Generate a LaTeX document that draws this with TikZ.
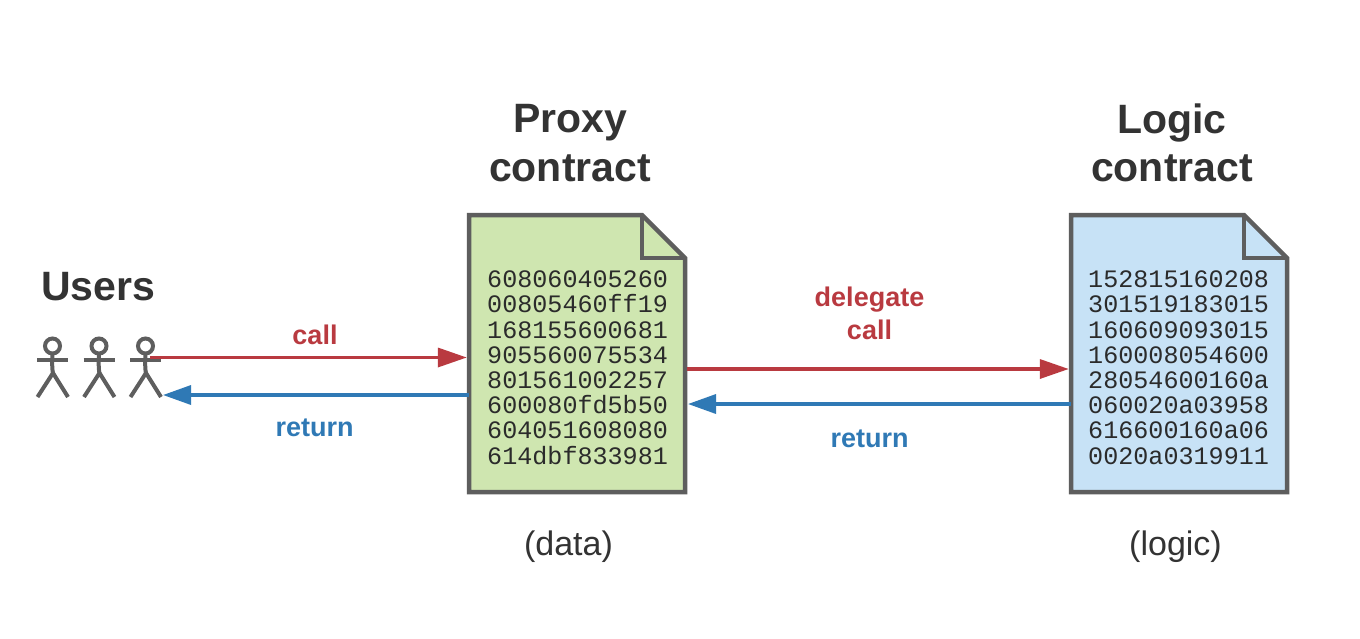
\documentclass[tikz,border=0pt]{standalone}
\usepackage{fontspec}
\setmainfont{Liberation Sans}
\newfontfamily\codefont{Liberation Mono}
\usetikzlibrary{arrows.meta,calc}
\definecolor{ink}{HTML}{333333}
\definecolor{edge}{HTML}{5E5E5E}
\definecolor{callred}{HTML}{B93A40}
\definecolor{retblue}{HTML}{2F79B5}
\definecolor{leaf}{HTML}{CFE6B0}
\definecolor{sky}{HTML}{C7E2F6}
\tikzset{
  x=1pt,y=-1pt,
  title/.style={font=\fontsize{41}{48.5}\selectfont\bfseries,text=ink,align=center,inner sep=0pt},
  note/.style={font=\fontsize{34}{40}\selectfont,text=ink,inner sep=0pt},
  lab/.style={font=\fontsize{27}{33}\selectfont\bfseries,align=center,inner sep=0pt},
  code/.style={font=\fontsize{25.1}{25.25}\selectfont\codefont,text=ink!85!black,align=left,inner sep=0pt},
  docbox/.style={minimum width=216pt,minimum height=277pt,inner sep=0pt},
  docline/.style={draw=edge,line width=4.5pt,miter limit=10},
  stick/.style={draw=edge,line width=4pt},
  callarrow/.style={draw=callred,line width=3.4pt,-{Triangle[length=29pt,width=19pt]}},
  retarrow/.style={draw=retblue,line width=3.4pt,-{Triangle[length=28pt,width=19pt]}},
  pics/person/.style={code={
    \draw[stick] (0,-14) circle (7.5);
    \draw[stick] (-15.5,0) -- (15.5,0);
    \draw[stick] (0,-6.5) .. controls (-0.5,2) and (-0.5,8) .. (0.5,14);
    \draw[stick] (-15,37) -- (0.5,13) -- (15.5,37);
  }}
}
\begin{document}
\begin{tikzpicture}
\useasboundingbox (0,0) rectangle (1360,638);
\fill[white] (0,0) rectangle (1360,638);

% documents
\node[docbox] (proxy) at (577,353.5) {};
\node[docbox] (logic) at (1179,353.5) {};
\filldraw[docline,fill=leaf] (469,215) -- (642,215) -- (685,258) -- (685,492) -- (469,492) -- cycle;
\draw[docline] (642,215) -- (642,258) -- (685,258);
\filldraw[docline,fill=sky] (1071,215) -- (1244,215) -- (1287,258) -- (1287,492) -- (1071,492) -- cycle;
\draw[docline] (1244,215) -- (1244,258) -- (1287,258);

\node[code,anchor=north west] (proxycode) at (487,270.5) {608060405260\\00805460ff19\\168155600681\\905560075534\\801561002257\\600080fd5b50\\604051608080\\614dbf833981};
\node[code,anchor=north west] (logiccode) at (1088,270.5) {152815160208\\301519183015\\160609093015\\160008054600\\28054600160a\\060020a03958\\616600160a06\\0020a0319911};

% titles
\node[title] (tproxy) at (570,143) {Proxy\\contract};
\node[title] (tlogic) at (1172,143) {Logic\\contract};
\node[title] (tusers) at (98,287) {Users};
\node[note] (ndata) at (568.5,547) {(data)};
\node[note] (nlogic) at (1175.5,547) {(logic)};

% users
\pic at (52.5,360) {person};
\pic at (99,360) {person};
\pic at (145.5,360) {person};
\coordinate (ucall) at (150,357.5);
\coordinate (uret) at (163,395);
\coordinate (pcall) at (687,369);
\coordinate (pret) at (688,404);

% connectors
\draw[callarrow] (ucall) -- ($(proxy.west |- ucall)+(-2,0)$);
\draw[retarrow] (proxy.west |- uret) -- (uret);
\draw[callarrow] (pcall) -- ($(logic.west |- pcall)+(-2,0)$);
\draw[retarrow] (logic.west |- pret) -- (pret);

% labels
\node[lab,text=callred] (lcall) at (315,334.5) {call};
\node[lab,text=retblue] (lret1) at (314.5,427.5) {return};
\node[lab,text=callred] (ldel) at (869.5,313.5) {delegate\\call};
\node[lab,text=retblue] (lret2) at (869.5,438.5) {return};
\end{tikzpicture}
\end{document}
